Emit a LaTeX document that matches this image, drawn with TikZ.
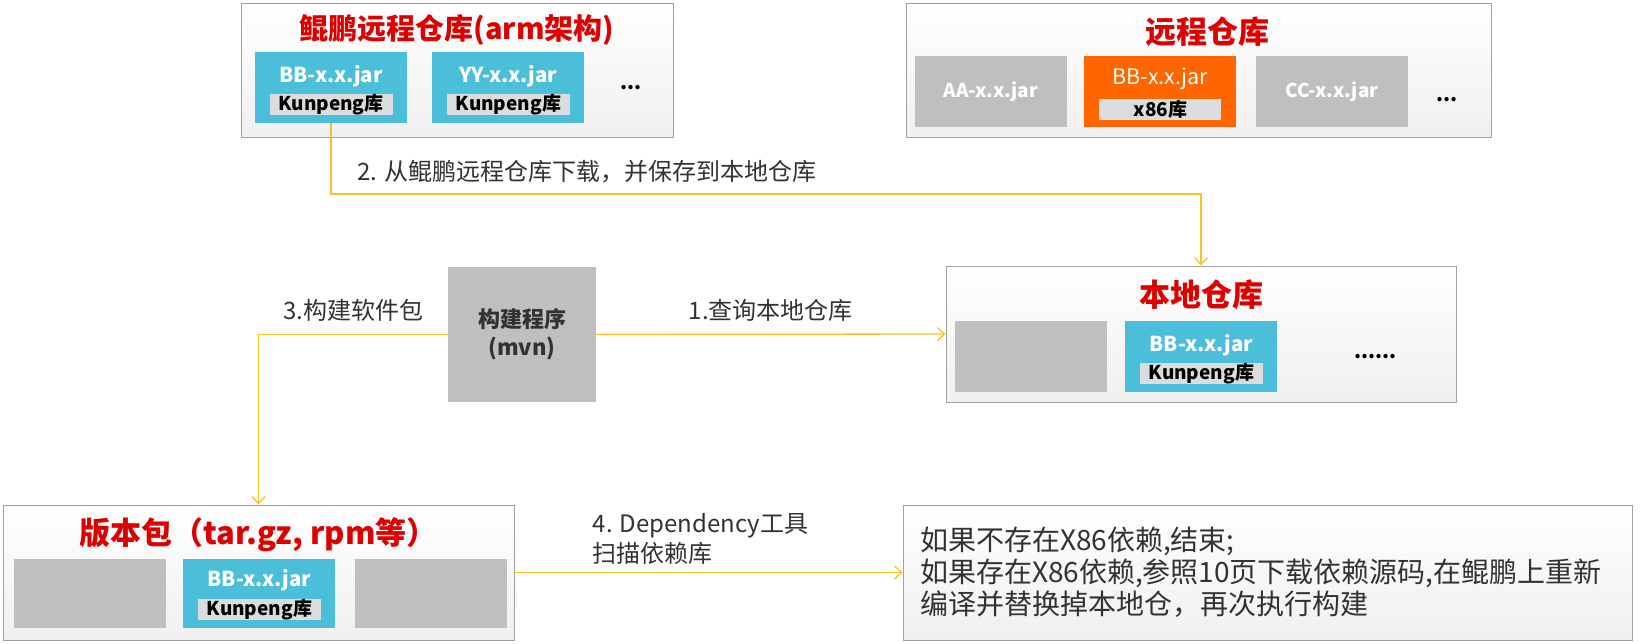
\documentclass[tikz,border=0pt]{standalone}
\usepackage{fontspec}
\setmainfont{Noto Sans CJK SC}
\usepackage{xcolor}
\usepackage{tikz}
\usetikzlibrary{positioning,arrows.meta,calc}

\definecolor{kpblue}{RGB}{75,190,218}
\definecolor{jargray}{RGB}{191,191,191}
\definecolor{x86orange}{RGB}{255,102,0}
\definecolor{tagfill}{RGB}{218,220,222}
\definecolor{titlered}{RGB}{222,0,0}
\definecolor{flowgold}{RGB}{250,192,40}
\definecolor{boxedge}{RGB}{160,160,160}
\definecolor{txtgray}{RGB}{50,50,50}

\begin{document}
\begin{tikzpicture}[
    x=1pt, y=-1pt,
    node distance=8pt and 17pt,
    repo/.style={rectangle, draw=boxedge, line width=1pt, top color=white, bottom color=gray!12, inner sep=0pt},
    repotitle/.style={text=titlered, font=\fontsize{31}{34}\selectfont\bfseries, inner sep=0pt},
    jar/.style={rectangle, fill=kpblue, minimum width=152pt, minimum height=71pt, inner sep=0pt},
    blank/.style={rectangle, fill=jargray, minimum width=152pt, minimum height=71pt, inner sep=0pt, text=white, font=\fontsize{19}{22}\selectfont\bfseries},
    jarname/.style={text=white, font=\fontsize{20.5}{24}\selectfont\bfseries, inner sep=0pt},
    libtag/.style={rectangle, fill=tagfill, minimum width=123pt, minimum height=21pt, inner sep=0pt, font=\fontsize{19}{21}\selectfont\bfseries},
    ellipsis/.style={font=\fontsize{20}{22}\selectfont\bfseries, inner sep=0pt},
    tool/.style={rectangle, fill=jargray, minimum width=148pt, minimum height=135pt, align=center, text=txtgray, font=\fontsize{22}{28}\selectfont\bfseries},
    flowlabel/.style={text=txtgray, font=\fontsize{24}{30}\selectfont, inner sep=0pt},
    arrow/.style={-{Straight Barb[length=7pt,width=13pt]}, draw=flowgold, line width=1.3pt}
]
\useasboundingbox (0,0) rectangle (1644,643);

% Kunpeng remote repository
\node[repo, minimum width=432pt, minimum height=134pt] (kprepo) at (457,70) {};
\node[repotitle, font=\fontsize{29}{34}\selectfont\bfseries] (kptitle) at ([yshift=-27pt]kprepo.north) {鲲鹏远程仓库(arm架构)};
\node[jar] (kpbb) at (331,87.5) {};
\node[jarname] (kpbbname) at ([yshift=-24pt]kpbb.north) {BB-x.x.jar};
\node[libtag, above=8pt of kpbb.south] (kpbbtag) {Kunpeng库};
\node[jar, right=25pt of kpbb] (kpyy) {};
\node[jarname] (kpyyname) at ([yshift=-24pt]kpyy.north) {YY-x.x.jar};
\node[libtag, above=8pt of kpyy.south] (kpyytag) {Kunpeng库};
\node[ellipsis, right=36pt of kpyy] (kpdots) {...};

% remote repository
\node[repo, minimum width=585pt, minimum height=134pt] (remote) at (1198.5,70) {};
\node[repotitle] (remotetitle) at ([xshift=9pt,yshift=-29pt]remote.north) {远程仓库};
\node[blank] (aajar) at (991,91.5) {AA-x.x.jar};
\node[jar, fill=x86orange, right=17pt of aajar] (x86bb) {};
\node[jarname, font=\fontsize{21.5}{24}\selectfont] (x86bbname) at ([yshift=-23pt]x86bb.north) {BB-x.x.jar};
\node[libtag, minimum width=122pt, above=7pt of x86bb.south] (x86tag) {x86库};
\node[blank, right=19pt of x86bb] (ccjar) {CC-x.x.jar};
\node[ellipsis, right=28pt of ccjar, yshift=-8pt] (remotedots) {...};

% build tool and local repository
\node[tool] (mvn) at (522,334.5) {构建程序\\(mvn)};
\node[repo, minimum width=510pt, minimum height=136pt] (local) at (1201,334) {};
\node[repotitle] (localtitle) at ([yshift=-29pt]local.north) {本地仓库};
\node[blank] (localblank) at (1031,356.5) {};
\node[jar, right=18pt of localblank] (localbb) {};
\node[jarname] (localbbname) at ([yshift=-24pt]localbb.north) {BB-x.x.jar};
\node[libtag, above=8pt of localbb.south] (localbbtag) {Kunpeng库};
\node[ellipsis, right=77pt of localbb] (localdots) {......};

% release package
\node[repo, minimum width=511pt, minimum height=135pt] (pkg) at (258.5,572.5) {};
\node[repotitle] (pkgtitle) at ([yshift=-30pt]pkg.north) {版本包（tar.gz, rpm等）};
\node[blank, minimum height=69pt] (pkgblankl) at (90,593.5) {};
\node[jar, minimum height=69pt, right=17pt of pkgblankl] (pkgbb) {};
\node[jarname] (pkgbbname) at ([yshift=-21pt]pkgbb.north) {BB-x.x.jar};
\node[libtag, above=8pt of pkgbb.south] (pkgbbtag) {Kunpeng库};
\node[blank, minimum height=69pt, right=19pt of pkgbb] (pkgblankr) {};

% scan result
\node[repo, minimum width=729pt, minimum height=135pt, text width=695pt, align=left, text=txtgray, font=\fontsize{28}{32}\selectfont] (verdict) at (1267.5,572.5) {如果不存在X86依赖,结束;\\如果存在X86依赖,参照10页下载依赖源码,在鲲鹏上重新\\编译并替换掉本地仓，再次执行构建};

% flows
\draw[arrow] (mvn.east) -- (local.west) node[flowlabel, midway, above=12pt] (querylabel) {1.查询本地仓库};
\coordinate (dlbend) at (kpbb.south |- 0,194);
\draw[arrow] (kpbb.south) -- (dlbend) -| (local.north);
\node[flowlabel, above right=11pt and 26pt of dlbend] (downloadlabel) {2. 从鲲鹏远程仓库下载，并保存到本地仓库};
\draw[arrow] (mvn.west) -| (pkg.north) node[flowlabel, pos=0.25, above=12pt] (buildlabel) {3.构建软件包};
\draw[arrow] (pkg.east) -- (verdict.west) node[flowlabel, midway, above=7pt, xshift=-8pt, align=left] (scanlabel) {4. Dependency工具\\扫描依赖库};
\end{tikzpicture}
\end{document}
